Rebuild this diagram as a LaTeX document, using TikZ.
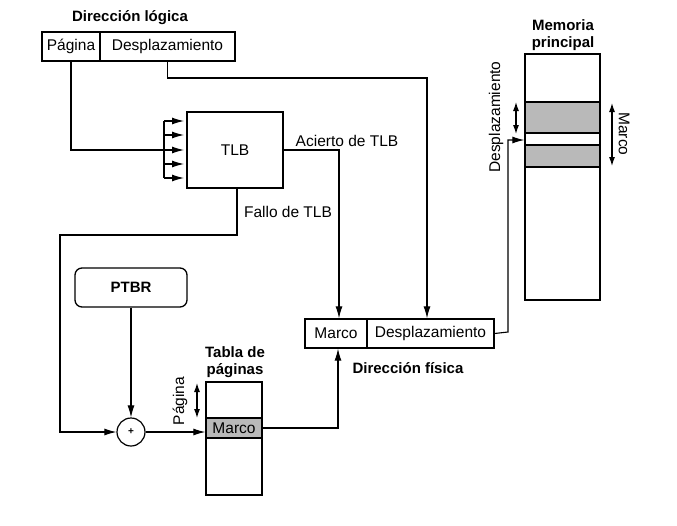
\documentclass[tikz,border=0pt]{standalone}
\usepackage{fontspec}
\setmainfont{Liberation Sans}
\usetikzlibrary{arrows.meta,calc}
\begin{document}
\begin{tikzpicture}[x=1pt,y=-1pt,
  font=\fontsize{15.5}{17}\selectfont,
  box/.style={draw,line width=1.3pt,inner sep=0pt,minimum height=29pt},
  band/.style={draw,line width=1.3pt,fill=gray!55,inner sep=0pt},
  title/.style={font=\fontsize{15}{16.5}\selectfont\bfseries,align=center,inner sep=0pt},
  lbl/.style={inner sep=0pt},
  conn/.style={line width=1.1pt},
  arr/.style={conn,-{Latex[length=12pt,width=7pt]}},
  darr/.style={conn,{Latex[length=9pt,width=6pt]}-{Latex[length=9pt,width=6pt]}}
]
\useasboundingbox (0,0) rectangle (677,525);
% logical address
\node[title] (tlog) at (130,18) {Dirección lógica};
\node[box,minimum width=58pt] (lpag) at (71,46.5) {Página};
\node[box,minimum width=135pt] (ldesp) at (167.5,46.5) {Desplazamiento};
% TLB
\node[draw,line width=1.3pt,minimum width=96pt,minimum height=76pt] (tlb) at (235,150) {TLB};
\coordinate (fan) at (164,150);
\coordinate (fantop) at (164,121);
\coordinate (fanbot) at (164,178);
\foreach \yy [count=\i] in {121,135,150,164,178}{
  \coordinate (f\i) at (164,\yy);
  \coordinate (g\i) at (184,\yy);
}
\draw[conn] (fantop) -- (fanbot);
\foreach \i in {1,...,5}{\draw[arr] (f\i) -- (g\i);}
\draw[conn] (lpag.south) |- (fan);
% physical address
\node[box,minimum width=62pt] (pmar) at (336,333.5) {Marco};
\node[box,minimum width=127pt] (pdesp) at (430.5,333.5) {Desplazamiento};
\node[title] (tfis) at (408,368) {Dirección física};
% offset path
\coordinate (d2) at (427,78);
\draw[arr] (ldesp.south) |- (d2) -- (d2 |- pdesp.north);
% TLB hit
\coordinate (h1) at (339,150);
\draw[arr] (tlb.east) -- (h1) -- (h1 |- pmar.north);
\node[lbl,anchor=south] (lhit) at (347,147) {Acierto de TLB};
% TLB miss
\node[lbl] (lmiss) at (288,212) {Fallo de TLB};
\coordinate (m1) at (237,235);
\coordinate (m2) at (60,235);
\coordinate (m3) at (60,432);
% PTBR and adder
\node[draw,line width=1.3pt,rounded corners=7pt,minimum width=112pt,minimum height=39pt,font=\fontsize{15}{16.5}\selectfont\bfseries] (ptbr) at (131,287.5) {PTBR};
\node[draw,line width=1.2pt,circle,minimum size=28pt,inner sep=0pt,font=\fontsize{10}{12}\selectfont\bfseries] (sum) at (131,432) {+};
\draw[arr] (tlb.south -| m1) -- (m1) -- (m2) -- (m3) -- (sum.west);
\draw[arr] (ptbr.south) -- (sum.north);
% page table
\node[title] (ttab) at (235,362) {Tabla de\\páginas};
\node[draw,line width=1.3pt,minimum width=56pt,minimum height=113pt] (ptab) at (234,438.5) {};
\node[band,minimum width=56pt,minimum height=20pt] (ptm) at (234,428) {Marco};
\draw[arr] (sum.east) -- (sum.east -| ptab.west);
\coordinate (pa) at (197,383);
\coordinate (pb) at (197,418);
\draw[darr] (pa) -- (pb);
\node[lbl,rotate=90] (lpagina) at (180,401) {Página};
\coordinate (t1) at (338,428);
\draw[arr] (ptm.east) -- (t1) -- (t1 |- pmar.south);
% main memory
\node[title] (tmem) at (563,35) {Memoria\\principal};
\node[draw,line width=1.3pt,minimum width=75pt,minimum height=246pt] (mem) at (562.5,177) {};
\node[band,minimum width=75pt,minimum height=31pt] (mb1) at (562.5,117.5) {};
\node[band,minimum width=75pt,minimum height=22pt] (mb2) at (562.5,156) {};
\coordinate (e1) at (508,332);
\coordinate (e2) at (508,140);
\draw[arr] (pdesp.east) -- (e1) -- (e2) -- (e2 -| mem.west);
\coordinate (da) at (516,102);
\coordinate (db) at (516,134);
\draw[darr] (da) -- (db);
\node[lbl,rotate=90] (ldes) at (496,117) {Desplazamiento};
\coordinate (ma) at (612,103);
\coordinate (mbb) at (612,166);
\draw[darr] (ma) -- (mbb);
\node[lbl,rotate=-90] (lmarco) at (624,134) {Marco};
\end{tikzpicture}
\end{document}
